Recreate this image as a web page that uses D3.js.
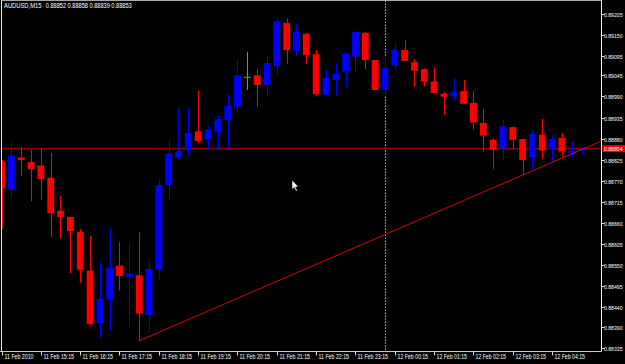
<!DOCTYPE html>
<html>
<head>
<meta charset="utf-8">
<script src="https://cdn.jsdelivr.net/npm/d3@7"></script>
<style>
body { margin: 0; background: #000; }
svg { display: block; }
text { font-family: "Liberation Sans", Arial, sans-serif; fill: #fff; }
</style>
</head>
<body>
<svg id="chart"></svg>
<script>
const width = 625, height = 364

// AUDUSD M15, 11 Feb 2010 14:15 ... 12 Feb 2010 05:00
let opens = [0.88820, 0.88747, 0.88831, 0.88819, 0.88810, 0.88778, 0.88692, 0.88676, 0.88637, 0.88536,
    0.88399, 0.88461, 0.88549, 0.88519, 0.88524, 0.88420, 0.88538, 0.88759, 0.88830, 0.88851,
    0.88899, 0.88879, 0.88898, 0.88929, 0.88963, 0.89040, 0.89045, 0.89020, 0.89070, 0.89182,
    0.89109, 0.89153, 0.89100, 0.88995, 0.89033, 0.89055, 0.89094, 0.89156, 0.89085, 0.89007,
    0.89070, 0.89111, 0.89079, 0.89061, 0.89029, 0.88997, 0.88991, 0.89004, 0.88973, 0.88921,
    0.88877, 0.88854, 0.88910, 0.88879, 0.88831, 0.88890, 0.88852, 0.88882, 0.88843, 0.88852]
let highs = [0.88824, 0.88871, 0.88859, 0.88851, 0.88856, 0.88843, 0.88730, 0.88676, 0.88644, 0.88626,
    0.88557, 0.88646, 0.88611, 0.88610, 0.88636, 0.88560, 0.88775, 0.88877, 0.88959, 0.88961,
    0.89005, 0.88913, 0.88940, 0.88994, 0.89087, 0.89106, 0.89062, 0.89096, 0.89192, 0.89194,
    0.89179, 0.89155, 0.89111, 0.89060, 0.89075, 0.89102, 0.89158, 0.89158, 0.89085, 0.89092,
    0.89129, 0.89136, 0.89087, 0.89063, 0.89065, 0.89002, 0.89036, 0.89033, 0.89004, 0.88957,
    0.88880, 0.88931, 0.88913, 0.88879, 0.88899, 0.88931, 0.88891, 0.88895, 0.88872, 0.88858]
let lows = [0.88645, 0.88725, 0.88784, 0.88717, 0.88720, 0.88623, 0.88621, 0.88529, 0.88504, 0.88392,
    0.88362, 0.88381, 0.88484, 0.88390, 0.88353, 0.88377, 0.88510, 0.88718, 0.88827, 0.88836,
    0.88868, 0.88852, 0.88853, 0.88853, 0.88946, 0.89007, 0.88963, 0.88992, 0.89049, 0.89075,
    0.89096, 0.89075, 0.88992, 0.88993, 0.88992, 0.89014, 0.89056, 0.89062, 0.89007, 0.88994,
    0.89059, 0.89083, 0.89015, 0.89016, 0.88999, 0.88941, 0.88979, 0.88971, 0.88904, 0.88846,
    0.88801, 0.88827, 0.88853, 0.88785, 0.88801, 0.88826, 0.88822, 0.88833, 0.88833, 0.88839]
let closes = [0.88751, 0.88836, 0.88824, 0.88800, 0.88775, 0.88686, 0.88676, 0.88639, 0.88538, 0.88397,
    0.88462, 0.88544, 0.88522, 0.88528, 0.88424, 0.88540, 0.88759, 0.88841, 0.88846, 0.88895,
    0.88874, 0.88903, 0.88931, 0.88965, 0.89045, 0.89040, 0.89020, 0.89077, 0.89186, 0.89111,
    0.89158, 0.89098, 0.88996, 0.89038, 0.89049, 0.89102, 0.89158, 0.89085, 0.89007, 0.89064,
    0.89111, 0.89083, 0.89057, 0.89029, 0.88999, 0.88989, 0.89001, 0.88971, 0.88922, 0.88888,
    0.88851, 0.88912, 0.88877, 0.88824, 0.88892, 0.88849, 0.88879, 0.88846, 0.88849, 0.88853]

let priceTicks = [0.89205, 0.89150, 0.89095, 0.89045, 0.88990, 0.88935, 0.88880, 0.88825, 0.88770,
    0.88715, 0.88660, 0.88605, 0.88550, 0.88495, 0.88440, 0.88390, 0.88335]
let timeLabels = ["11 Feb 2010", "11 Feb 15:15", "11 Feb 16:15", "11 Feb 17:15", "11 Feb 18:15",
    "11 Feb 19:15", "11 Feb 20:15", "11 Feb 21:15", "11 Feb 22:15", "11 Feb 23:15",
    "12 Feb 00:15", "12 Feb 01:15", "12 Feb 02:15", "12 Feb 03:15", "12 Feb 04:15"]
let barsPerLabel = 4
let dayBreakBar = 39
let levelPrice = 0.88854
let trendStart = [14, 0.88353]
let trendEnd = [53, 0.88785]
let title = ["AUDUSD,M15", "0.88852 0.88858 0.88839 0.88853"]

let plot = {left: 1.5, right: 601.5, top: 0.5, bottom: 351.5}

let svg = d3.select('#chart')
    .attr("width", width)
    .attr("height", height)

svg.append("rect").attr("width", width).attr("height", height).attr("fill", "#000")

let x = d3.scaleLinear().domain([0, opens.length - 1]).range([1.5, 581.5])
let y = d3.scaleLinear().domain([0.88335, 0.89205]).range([347.7, 14])

svg.append("clipPath").attr("id", "plotclip")
    .append("rect")
    .attr("x", plot.left + 0.5).attr("y", plot.top + 0.5)
    .attr("width", plot.right - plot.left - 1).attr("height", plot.bottom - plot.top - 1)

let g = svg.append("g").attr("clip-path", "url(#plotclip)")

// day separator
let sx = Math.round(x(dayBreakBar)) + 0.5
g.append("line")
    .attr("x1", sx).attr("x2", sx)
    .attr("y1", plot.top).attr("y2", plot.bottom)
    .attr("stroke", "#e8e8e8")
    .attr("stroke-dasharray", "1.2,1.8")

// horizontal level
g.append("line")
    .attr("x1", plot.left).attr("x2", plot.right)
    .attr("y1", y(levelPrice)).attr("y2", y(levelPrice))
    .attr("stroke", "#8a0000")
    .attr("stroke-width", 1.6)

let bars = d3.range(opens.length).map(i => ({i: i, o: opens[i], h: highs[i], l: lows[i], c: closes[i]}))
let barColor = d => d.c > d.o ? "#0000ff" : (d.c < d.o ? "#ff0000" : "#22cc22")

let candle = g.append("g").selectAll("g")
    .data(bars)
    .enter()
    .append("g")

candle.append("line")
    .attr("x1", d => Math.round(x(d.i)) + 0.5)
    .attr("x2", d => Math.round(x(d.i)) + 0.5)
    .attr("y1", d => y(d.h))
    .attr("y2", d => y(d.l))
    .attr("stroke", barColor)
    .attr("stroke-width", 1)

candle.filter(d => d.c != d.o).append("rect")
    .attr("x", d => x(d.i) - 3.3)
    .attr("width", 6.8)
    .attr("y", d => y(Math.max(d.o, d.c)))
    .attr("height", d => Math.max(1.5, Math.abs(y(d.o) - y(d.c))))
    .attr("fill", barColor)

// doji: horizontal tick
candle.filter(d => d.c == d.o).append("line")
    .attr("x1", d => x(d.i) - 3.3)
    .attr("x2", d => x(d.i) + 3.5)
    .attr("y1", d => y(d.o))
    .attr("y2", d => y(d.o))
    .attr("stroke", barColor)

// trend line (ray to the right)
let slope = (trendEnd[1] - trendStart[1]) / (trendEnd[0] - trendStart[0])
let endBar = x.invert(plot.right)
g.append("line")
    .attr("x1", x(trendStart[0])).attr("y1", y(trendStart[1]))
    .attr("x2", x(endBar)).attr("y2", y(trendStart[1] + slope * (endBar - trendStart[0])))
    .attr("stroke", "#d80000")
    .attr("stroke-width", 1)

// frame
svg.append("line").attr("x1", plot.left).attr("x2", plot.left).attr("y1", 0).attr("y2", plot.bottom)
    .attr("stroke", "#e6e6e6")
svg.append("line").attr("x1", plot.left).attr("x2", plot.right).attr("y1", plot.top).attr("y2", plot.top)
    .attr("stroke", "#a8a8a8")
svg.append("line").attr("x1", plot.right).attr("x2", plot.right).attr("y1", 0).attr("y2", plot.bottom)
    .attr("stroke", "#f0f0f0")
svg.append("line").attr("x1", 0).attr("x2", plot.right).attr("y1", plot.bottom).attr("y2", plot.bottom)
    .attr("stroke", "#c8c8c8")

// price axis
let py = svg.append("g").selectAll("g")
    .data(priceTicks)
    .enter()
    .append("g")
    .attr("transform", d => "translate(0," + Math.round(y(d)) + ")")
py.append("line")
    .attr("x1", plot.right).attr("x2", plot.right + 3)
    .attr("y1", 0.5).attr("y2", 0.5)
    .attr("stroke", "#e0e0e0")
py.append("text")
    .attr("x", 604).attr("y", 2.8)
    .attr("font-size", 5.6)
    .attr("textLength", 18.5)
    .attr("lengthAdjust", "spacingAndGlyphs")
    .attr("fill", "#e6e6e6")
    .text(d => d.toFixed(5))

// current level label
let ly = y(levelPrice)
svg.append("rect")
    .attr("x", plot.right + 1).attr("y", ly - 3.5)
    .attr("width", width - plot.right - 1).attr("height", 7)
    .attr("fill", "#ee0000")
svg.append("text")
    .attr("x", 604).attr("y", ly + 2.4)
    .attr("font-size", 5.6)
    .attr("textLength", 18.5)
    .attr("lengthAdjust", "spacingAndGlyphs")
    .attr("fill", "#ffffff")
    .text(levelPrice.toFixed(5))

// time axis
let tx = svg.append("g").selectAll("g")
    .data(timeLabels)
    .enter()
    .append("g")
    .attr("transform", (d, k) => "translate(" + (Math.round(x(k * barsPerLabel)) + 0.5) + ",0)")
tx.append("line")
    .attr("x1", 0).attr("x2", 0)
    .attr("y1", plot.bottom).attr("y2", plot.bottom + 4)
    .attr("stroke", "#e0e0e0")
tx.append("text")
    .attr("x", 2).attr("y", 359)
    .attr("font-size", 6.8)
    .attr("textLength", (d, k) => k == 0 ? 29 : 30.5)
    .attr("lengthAdjust", "spacingAndGlyphs")
    .attr("fill", "#e6e6e6")
    .text(d => d)

// title
svg.append("text")
    .attr("x", 4).attr("y", 7.6)
    .attr("font-size", 6.5)
    .attr("textLength", 37.5)
    .attr("lengthAdjust", "spacingAndGlyphs")
    .text(title[0])
svg.append("text")
    .attr("x", 45.7).attr("y", 7.6)
    .attr("font-size", 6.5)
    .attr("textLength", 86)
    .attr("lengthAdjust", "spacingAndGlyphs")
    .text(title[1])

// mouse pointer
svg.append("path")
    .attr("transform", "translate(292,180)")
    .attr("d", "M0,0 L0,9.5 L2.2,7.4 L4,11.2 L5.4,10.6 L3.7,6.9 L6.6,6.9 Z")
    .attr("fill", "#ffffff")
    .attr("stroke", "#000")
    .attr("stroke-width", 0.6)
</script>
</body>
</html>
